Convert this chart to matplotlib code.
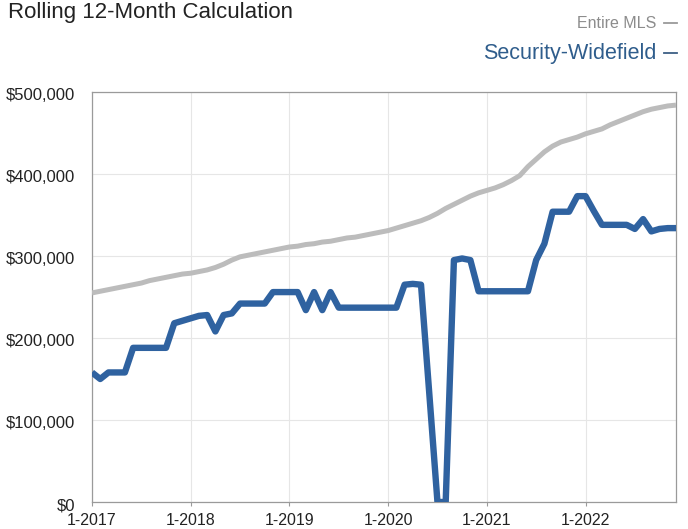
import matplotlib
matplotlib.use("Agg")
import matplotlib.pyplot as plt
from matplotlib.lines import Line2D
from matplotlib.ticker import FuncFormatter
from matplotlib.transforms import ScaledTranslation

plt.rcParams['font.family'] = ['Liberation Sans', 'DejaVu Sans']

# Monthly rolling 12-month values, Jan 2017 .. Dec 2022 (thousands of dollars)
tick_labels = ["1-2017", "1-2018", "1-2019", "1-2020", "1-2021", "1-2022"]

entire_mls = [
    255, 257, 259, 261, 263, 265, 267, 270, 272, 274, 276, 278,
    279, 281, 283, 286, 290, 295, 299, 301, 303, 305, 307, 309,
    311, 312, 314, 315, 317, 318, 320, 322, 323, 325, 327, 329,
    331, 334, 337, 340, 343, 347, 352, 358, 363, 368, 373, 377,
    380, 383, 387, 392, 398, 409, 418, 427, 434, 439, 442, 445,
    449, 452, 455, 460, 464, 468, 472, 476, 479, 481, 483, 484,
]

security_widefield = [
    158, 150, 158, 158, 158, 188, 188, 188, 188, 188, 218, 221,
    224, 227, 228, 208, 228, 230, 242, 242, 242, 242, 256, 256,
    256, 256, 234, 256, 234, 256, 237, 237, 237, 237, 237, 237,
    237, 237, 265, 266, 265, 133, 0, 0, 295, 297, 295, 257,
    257, 257, 257, 257, 257, 257, 295, 315, 354, 354, 354, 373,
    373, 355, 338, 338, 338, 338, 333, 345, 330, 333, 334, 334,
]

months = list(range(len(entire_mls)))
gray_vals = [v * 1000 for v in entire_mls]
blue_vals = [v * 1000 for v in security_widefield]

GRAY = "#bcbcbc"
BLUE = "#2f62a0"

fig = plt.figure(figsize=(6.88, 5.29), dpi=100)
ax = fig.add_axes([92 / 688, 1 - 502 / 529, (676 - 92) / 688, (502 - 92) / 529])

ax.plot(months, gray_vals, color=GRAY, lw=3.6, solid_joinstyle="round",
        solid_capstyle="butt", zorder=3)
ax.plot(months, blue_vals, color=BLUE, lw=4.6, solid_joinstyle="round",
        solid_capstyle="butt", zorder=4)

ax.set_xlim(0, len(months) - 1)
ax.set_ylim(0, 500000)
ax.set_xticks([12 * k for k in range(len(tick_labels))])
ax.set_xticklabels(tick_labels)
ax.set_yticks(range(0, 500001, 100000))
ax.yaxis.set_major_formatter(FuncFormatter(lambda v, p: f"${int(v):,}"))

ax.grid(True, color="#e6e6e6", lw=0.8)
ax.set_axisbelow(True)
for s in ax.spines.values():
    s.set_color("#9a9a9a")
    s.set_linewidth(0.9)

ax.tick_params(axis="x", length=3, color="#9a9a9a", labelsize=11.5,
               labelcolor="#222222", pad=5)
ax.tick_params(axis="y", length=0, labelsize=12, labelcolor="#222222", pad=12)

# y labels sit slightly below their gridlines
for lbl in ax.get_yticklabels():
    lbl.set_transform(lbl.get_transform() + ScaledTranslation(0, -2 / 100, fig.dpi_scale_trans))

fig.text(8 / 688, 1 - 18 / 529, "Rolling 12-Month Calculation", fontsize=16,
         color="#222222", ha="left", va="baseline")

# legend: right-aligned labels followed by a short line in the series color
legend_items = [
    ("Entire MLS", "#8c8c8c", "#9a9a9a", 23, 11.5),
    ("Security-Widefield", "#2f5d8c", "#3d5f85", 53, 15.5),
]
for label, tcolor, lcolor, ypx, size in legend_items:
    yf = 1 - ypx / 529
    fig.text(656 / 688, yf, label, fontsize=size, color=tcolor, ha="right", va="center")
    fig.add_artist(Line2D([664 / 688, 677 / 688], [yf, yf], color=lcolor, lw=1.3,
                          transform=fig.transFigure))

fig.savefig("out.png", dpi=100)
